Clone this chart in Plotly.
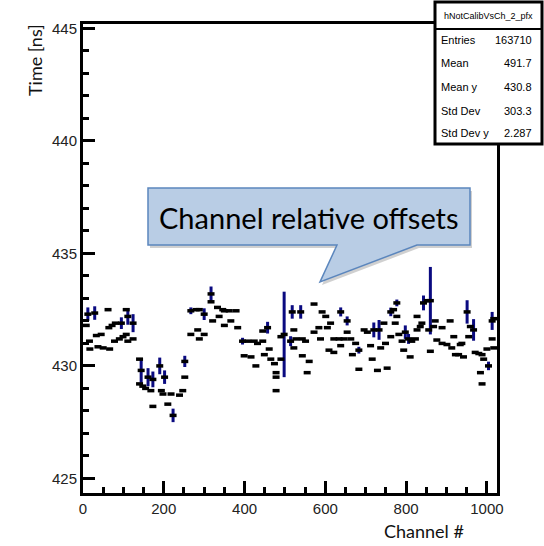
import plotly.graph_objects as go

# Profile of uncalibrated hit time per readout channel (mean +/- error per channel)
channel = [
    8, 12, 16, 17, 29, 33, 37, 45, 50, 62, 64, 66, 72, 78, 80, 90, 95, 99, 107, 107,
    111, 111, 124, 124, 140, 140, 144, 148, 155, 161, 168, 173, 173, 190, 194, 198, 202, 210, 218, 223,
    239, 247, 252, 252, 267, 267, 280, 284, 288, 288, 300, 300, 317, 317, 321, 333, 337, 346, 350, 350,
    362, 366, 379, 383, 395, 399, 408, 416, 424, 428, 432, 445, 445, 449, 457, 461, 465, 474, 478, 478,
    478, 490, 490, 498, 514, 518, 522, 522, 527, 539, 543, 543, 551, 555, 560, 572, 572, 584, 588, 592,
    601, 605, 609, 613, 621, 621, 634, 638, 638, 646, 654, 654, 663, 667, 675, 683, 683, 696, 704, 712,
    716, 720, 729, 733, 737, 745, 749, 753, 762, 762, 769, 773, 777, 777, 782, 790, 794, 798, 806, 810,
    814, 823, 827, 827, 835, 839, 843, 852, 856, 860, 860, 868, 872, 876, 889, 889, 901, 909, 913, 918,
    922, 930, 934, 938, 942, 951, 955, 959, 967, 971, 980, 984, 988, 988, 992, 1000, 1004, 1013, 1013, 1017,
    1017,
]
mean_time = [
    431.8, 432.3, 431.1, 430.75, 432.35, 431.35, 430.85, 431.4, 430.8, 432.5, 431.7, 430.75, 431.8, 431.1, 431.9, 431.2, 431.9, 431.3, 432.5, 431.4,
    432.2, 431.1, 431.9, 431.2, 430.3, 429.2, 429.8, 429.1, 429.0, 429.5, 428.9, 429.4, 428.2, 430.0, 428.9, 428.75, 429.5, 428.3, 428.75, 427.8,
    428.7, 428.9, 430.2, 429.5, 432.45, 431.4, 432.5, 431.6, 432.5, 431.2, 432.3, 431.4, 433.2, 432.85, 432.0, 432.6, 432.2, 432.5, 432.45, 431.8,
    432.45, 432.0, 432.45, 431.7, 431.1, 430.45, 431.1, 430.4, 431.1, 430.0, 431.0, 431.1, 431.55, 430.5, 431.7, 430.75, 430.3, 430.1, 429.7, 429.5,
    428.9, 431.3, 430.3, 431.4, 431.1, 432.4, 431.6, 430.8, 431.2, 432.4, 431.2, 430.45, 431.1, 429.7, 430.2, 432.75, 431.5, 431.7, 431.2, 432.4,
    432.2, 431.7, 430.7, 431.9, 431.2, 430.6, 431.2, 432.4, 430.9, 431.2, 432.0, 431.5, 431.2, 430.5, 431.0, 429.85, 430.7, 431.6, 431.5, 430.9,
    430.3, 431.6, 429.8, 431.6, 430.8, 431.9, 431.0, 429.9, 432.4, 431.3, 432.5, 431.9, 432.8, 432.2, 431.4, 431.1, 430.7, 431.5, 431.2, 430.4,
    431.1, 431.2, 431.6, 432.2, 431.75, 431.9, 432.8, 432.9, 431.6, 432.9, 430.65, 431.75, 432.0, 431.15, 431.7, 431.0, 430.95, 432.0, 430.8, 431.3,
    430.5, 430.5, 430.95, 431.0, 430.4, 432.4, 431.3, 431.75, 431.6, 430.6, 430.55, 429.7, 430.5, 429.2, 430.3, 430.75, 430.0, 432.0, 431.2, 432.1,
    430.8,
]
time_error = [
    0.0, 0.3, 0.0, 0.0, 0.3, 0.0, 0.0, 0.0, 0.0, 0.0, 0.0, 0.0, 0.0, 0.0, 0.0, 0.0, 0.26, 0.0, 0.0, 0.0,
    0.37, 0.0, 0.4, 0.0, 0.0, 0.0, 0.55, 0.0, 0.0, 0.4, 0.0, 0.35, 0.0, 0.37, 0.0, 0.0, 0.3, 0.0, 0.0, 0.3,
    0.0, 0.0, 0.25, 0.0, 0.15, 0.0, 0.0, 0.0, 0.0, 0.0, 0.26, 0.0, 0.33, 0.0, 0.0, 0.0, 0.0, 0.0, 0.0, 0.0,
    0.0, 0.0, 0.0, 0.0, 0.15, 0.0, 0.0, 0.0, 0.0, 0.0, 0.0, 0.0, 0.0, 0.0, 0.26, 0.0, 0.0, 0.0, 0.0, 0.0,
    0.0, 0.0, 0.0, 1.9, 0.22, 0.3, 0.0, 0.0, 0.0, 0.3, 0.0, 0.0, 0.0, 0.0, 0.0, 0.0, 0.0, 0.0, 0.0, 0.0,
    0.0, 0.0, 0.0, 0.0, 0.0, 0.0, 0.0, 0.2, 0.0, 0.0, 0.2, 0.0, 0.0, 0.0, 0.0, 0.0, 0.15, 0.0, 0.0, 0.0,
    0.0, 0.33, 0.0, 0.44, 0.0, 0.0, 0.0, 0.0, 0.19, 0.0, 0.0, 0.0, 0.15, 0.0, 0.0, 0.0, 0.0, 0.3, 0.22, 0.0,
    0.0, 0.0, 0.0, 0.0, 0.0, 0.0, 0.33, 0.0, 0.0, 1.5, 0.0, 0.0, 0.0, 0.0, 0.0, 0.0, 0.0, 0.0, 0.0, 0.0,
    0.0, 0.0, 0.0, 0.0, 0.0, 0.52, 0.0, 0.0, 0.48, 0.0, 0.0, 0.0, 0.0, 0.0, 0.0, 0.0, 0.19, 0.4, 0.0, 0.0,
    0.0,
]

x_ticks = [0, 200, 400, 600, 800, 1000]
y_ticks = [425, 430, 435, 440, 445]

stats_title = "hNotCalibVsCh_2_pfx"
stats_names = ["Entries", "Mean", "Mean y", "Std Dev", "Std Dev y"]
stats_values = ["163710", "491.7", "430.8", "303.3", "2.287"]

callout_text = "Channel relative offsets"

# ---- page geometry (pixels) ----
W, H = 544, 546
L, R, T, B = 83, 47, 24, 53
PW, PH = W - L - R, H - T - B


def px(x):
    return (x - L) / PW


def py(y):
    return (H - B - y) / PH


fig = go.Figure()
fig.add_trace(go.Scatter(
    x=channel, y=mean_time, mode="markers",
    marker=dict(symbol="line-ew", size=5, line=dict(width=3.5, color="black")),
    error_y=dict(type="data", array=time_error, visible=True,
                 color="#0a0a80", thickness=3, width=0),
    showlegend=False, hoverinfo="x+y",
))

shapes = []

# callout bubble: shadow then body
def bubble_path(dx=0.0, dy=0.0):
    pts = [(148, 188), (470, 188), (470, 245), (417, 245), (320, 282), (337, 245), (148, 245)]
    return "M " + " L ".join(f"{px(a + dx):.5f},{py(b + dy):.5f}" for a, b in pts) + " Z"

shapes.append(dict(type="path", xref="paper", yref="paper", path=bubble_path(2, 3),
                   fillcolor="rgba(120,120,120,0.35)", line=dict(width=0), layer="above"))
shapes.append(dict(type="path", xref="paper", yref="paper", path=bubble_path(),
                   fillcolor="#b9cde5", line=dict(color="#5b86bd", width=1.5), layer="above"))

# statistics box
shapes.append(dict(type="rect", xref="paper", yref="paper",
                   x0=px(435), x1=px(542), y0=py(2), y1=py(144),
                   fillcolor="white", line=dict(color="black", width=3), layer="above"))
shapes.append(dict(type="line", xref="paper", yref="paper",
                   x0=px(435), x1=px(542), y0=py(29), y1=py(29),
                   line=dict(color="black", width=2), layer="above"))

annotations = [
    dict(text=callout_text, x=px(309), y=py(217), xref="paper", yref="paper",
         showarrow=False, xanchor="center", yanchor="middle",
         font=dict(family="Lato, Open Sans, sans-serif", size=29, color="black")),
    dict(text="Time [ns]", x=px(35), y=py(60), xref="paper", yref="paper",
         showarrow=False, textangle=-90, xanchor="center", yanchor="middle",
         font=dict(family="Lato, Open Sans, sans-serif", size=18, color="#111")),
    dict(text="Channel #", x=px(424), y=py(531), xref="paper", yref="paper",
         showarrow=False, xanchor="center", yanchor="middle",
         font=dict(family="Lato, Open Sans, sans-serif", size=18, color="#111")),
    dict(text=stats_title, x=px(488.5), y=py(16), xref="paper", yref="paper",
         showarrow=False, xanchor="center", yanchor="middle",
         font=dict(family="Liberation Sans, Arial, sans-serif", size=9, color="black")),
]
row_y = [40, 63, 87, 111, 133]
for name, val, yy in zip(stats_names, stats_values, row_y):
    annotations.append(dict(text=name, x=px(439), y=py(yy), xref="paper", yref="paper",
                            showarrow=False, xanchor="left", yanchor="middle",
                            font=dict(family="Liberation Sans, Arial, sans-serif", size=11, color="black")))
    annotations.append(dict(text=val, x=px(534), y=py(yy), xref="paper", yref="paper",
                            showarrow=False, xanchor="right", yanchor="middle",
                            font=dict(family="Liberation Sans, Arial, sans-serif", size=11, color="black")))

axis_font = dict(family="Liberation Sans, Arial, sans-serif", size=15, color="#222")

fig.update_layout(
    width=W, height=H,
    margin=dict(l=L, r=R, t=T, b=B, pad=0),
    paper_bgcolor="white", plot_bgcolor="white",
    shapes=shapes, annotations=annotations,
    xaxis=dict(range=[0, 1025], tickvals=x_ticks, ticks="inside", ticklen=12, tickwidth=3,
               tickcolor="black", showline=True, linecolor="black", linewidth=3, mirror=True,
               showgrid=False, zeroline=False, tickfont=axis_font,
               minor=dict(ticks="inside", ticklen=6, tickwidth=3, dtick=50, tick0=0,
                          tickcolor="black", showgrid=False)),
    yaxis=dict(range=[424.35, 445.2], tickvals=y_ticks, ticks="inside", ticklen=12, tickwidth=3,
               tickcolor="black", showline=True, linecolor="black", linewidth=3, mirror=True,
               showgrid=False, zeroline=False, tickfont=axis_font,
               minor=dict(ticks="inside", ticklen=6, tickwidth=3, dtick=1, tick0=425,
                          tickcolor="black", showgrid=False)),
)

fig.write_html("out.html")
